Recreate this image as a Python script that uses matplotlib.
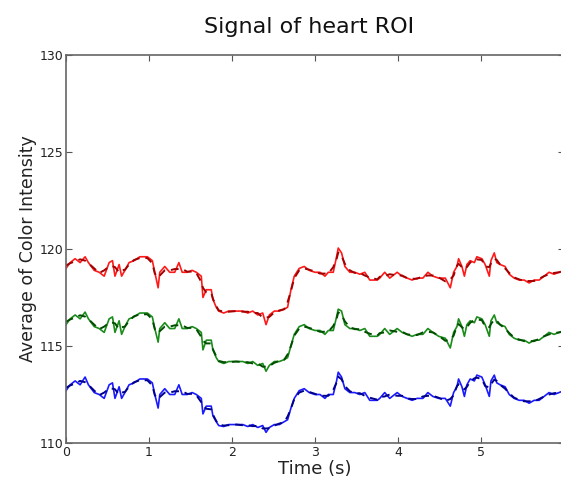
import numpy as np
import pandas as pd
from matplotlib import pyplot as plt

# time stamps (s)
time_s = [0.00, 0.05, 0.11, 0.17, 0.23, 0.27, 0.34, 0.40, 0.46, 0.52,
          0.56, 0.59, 0.64, 0.67, 0.71, 0.76, 0.82, 0.89, 0.98, 1.04,
          1.07, 1.11, 1.13, 1.19, 1.25, 1.31, 1.36, 1.40, 1.46, 1.52,
          1.57, 1.63, 1.65, 1.69, 1.75, 1.77, 1.81, 1.84, 1.90, 1.96,
          2.05, 2.13, 2.19, 2.25, 2.31, 2.37, 2.41, 2.45, 2.51, 2.57,
          2.63, 2.67, 2.71, 2.75, 2.81, 2.87, 2.93, 3.00, 3.06, 3.12,
          3.16, 3.22, 3.26, 3.28, 3.32, 3.36, 3.42, 3.48, 3.54, 3.60,
          3.66, 3.75, 3.78, 3.84, 3.90, 3.99, 4.05, 4.11, 4.17, 4.23,
          4.30, 4.36, 4.42, 4.49, 4.57, 4.63, 4.67, 4.71, 4.73, 4.77,
          4.80, 4.83, 4.87, 4.92, 4.95, 5.01, 5.05, 5.10, 5.12, 5.16,
          5.19, 5.23, 5.29, 5.34, 5.40, 5.46, 5.52, 5.58, 5.64, 5.70,
          5.76, 5.82, 5.88, 5.94, 6.00]

red = [119.0, 119.3, 119.5, 119.3, 119.6, 119.3, 118.9, 118.8, 118.6, 119.3,
       119.4, 118.6, 119.2, 118.6, 118.9, 119.3, 119.4, 119.6, 119.6, 119.4,
       118.8, 118.0, 118.8, 119.1, 118.8, 118.8, 119.3, 118.8, 118.8, 118.9,
       118.8, 118.6, 117.5, 117.9, 117.9, 117.4, 117.0, 116.8, 116.7, 116.8,
       116.8, 116.8, 116.7, 116.8, 116.6, 116.7, 116.1, 116.6, 116.8, 116.8,
       116.9, 117.0, 117.9, 118.6, 119.0, 119.1, 118.9, 118.8, 118.8, 118.6,
       118.8, 118.8, 119.6, 120.05, 119.8, 119.1, 118.8, 118.8, 118.7, 118.8,
       118.4, 118.4, 118.5, 118.8, 118.5, 118.8, 118.6, 118.5, 118.4, 118.5,
       118.5, 118.8, 118.6, 118.5, 118.5, 118.0, 118.8, 119.1, 119.5, 119.1,
       118.6, 119.2, 119.4, 119.3, 119.6, 119.5, 119.2, 118.6, 119.4, 119.8,
       119.3, 119.2, 119.1, 118.7, 118.5, 118.4, 118.4, 118.25, 118.4, 118.4,
       118.6, 118.8, 118.7, 118.8, 118.9]

green = [116.1, 116.4, 116.6, 116.4, 116.75, 116.4, 116.0, 115.9, 115.7, 116.4,
         116.5, 115.7, 116.3, 115.6, 116.0, 116.4, 116.5, 116.7, 116.7, 116.5,
         115.9, 115.2, 115.9, 116.2, 115.9, 115.9, 116.4, 115.9, 115.9, 116.0,
         115.9, 115.7, 114.8, 115.3, 115.3, 114.8, 114.4, 114.2, 114.1, 114.2,
         114.2, 114.2, 114.1, 114.2, 114.0, 114.1, 113.7, 114.0, 114.2, 114.2,
         114.3, 114.4, 115.0, 115.6, 116.0, 116.1, 115.9, 115.8, 115.8, 115.6,
         115.8, 115.8, 116.5, 116.9, 116.8, 116.1, 115.9, 115.9, 115.8, 115.9,
         115.5, 115.5, 115.6, 115.9, 115.6, 115.9, 115.7, 115.6, 115.5, 115.6,
         115.6, 115.9, 115.7, 115.5, 115.4, 114.9, 115.7, 116.0, 116.4, 116.0,
         115.5, 116.1, 116.3, 116.2, 116.5, 116.4, 116.1, 115.5, 116.3, 116.6,
         116.2, 116.1, 116.0, 115.6, 115.4, 115.3, 115.3, 115.15, 115.3, 115.3,
         115.5, 115.7, 115.6, 115.7, 115.8]

blue = [112.7, 113.0, 113.2, 113.0, 113.4, 113.0, 112.6, 112.5, 112.3, 113.0,
        113.1, 112.3, 112.9, 112.3, 112.6, 113.0, 113.1, 113.3, 113.3, 113.1,
        112.5, 111.8, 112.5, 112.8, 112.5, 112.5, 113.0, 112.5, 112.5, 112.6,
        112.5, 112.3, 111.5, 111.9, 111.9, 111.4, 111.1, 110.9, 110.85, 110.95,
        110.95, 110.95, 110.85, 110.95, 110.8, 110.9, 110.55, 110.8, 110.95, 110.95,
        111.1, 111.2, 111.8, 112.3, 112.7, 112.8, 112.6, 112.5, 112.5, 112.3,
        112.5, 112.5, 113.2, 113.65, 113.4, 112.8, 112.6, 112.6, 112.5, 112.6,
        112.2, 112.2, 112.3, 112.6, 112.3, 112.6, 112.4, 112.3, 112.2, 112.3,
        112.3, 112.6, 112.4, 112.3, 112.3, 111.9, 112.6, 112.9, 113.3, 112.9,
        112.4, 113.0, 113.3, 113.2, 113.5, 113.4, 113.0, 112.4, 113.2, 113.5,
        113.1, 113.0, 112.9, 112.5, 112.3, 112.2, 112.2, 112.05, 112.2, 112.2,
        112.4, 112.6, 112.5, 112.6, 112.7]

x_ticks = [0, 1, 2, 3, 4, 5, 6]
x_ticklabels = ['0', '1', '2', '3', '4', '5', '']  # the "6" falls off the image
y_ticks = [110, 115, 120, 125, 130]

fig = plt.figure(figsize=(5.61, 4.82), dpi=100)
ax = fig.add_axes([66 / 561, 1 - 443 / 482, (564 - 66) / 561, (443 - 55) / 482])

series = [(red, '#ff1a1a', '#a00000'),
          (green, '#1a8c1a', '#004d00'),
          (blue, '#1a1aff', '#00008c')]
for vals, c, c_dark in series:
    ax.plot(time_s, vals, color=c, lw=1.2)
    # smoothed trace drawn dashed on top
    smooth = pd.Series(vals).rolling(3, center=True, min_periods=1).mean()
    ax.plot(time_s, smooth, color=c_dark, lw=1.4, ls='--', dashes=(4, 3))

ax.set_xlim(0, 6)
ax.set_ylim(110, 130)
ax.set_xticks(x_ticks)
ax.set_xticklabels(x_ticklabels)
ax.set_yticks(y_ticks)
ax.tick_params(direction='in', top=True, right=True, length=4, pad=2,
               labelsize=9, colors='#555555', labelcolor='#222222')
for sp in ax.spines.values():
    sp.set_color('#666666')
    sp.set_linewidth(1.2)

ax.set_xlabel('Time (s)', fontsize=13, color='#222222', labelpad=1)
ax.set_ylabel('Average of Color Intensity', fontsize=12.5, color='#222222', labelpad=1.5)
fig.text(0.551, 0.945, 'Signal of heart ROI', ha='center', va='center', fontsize=16, color='#111111')

plt.savefig('out.png', dpi=100)
